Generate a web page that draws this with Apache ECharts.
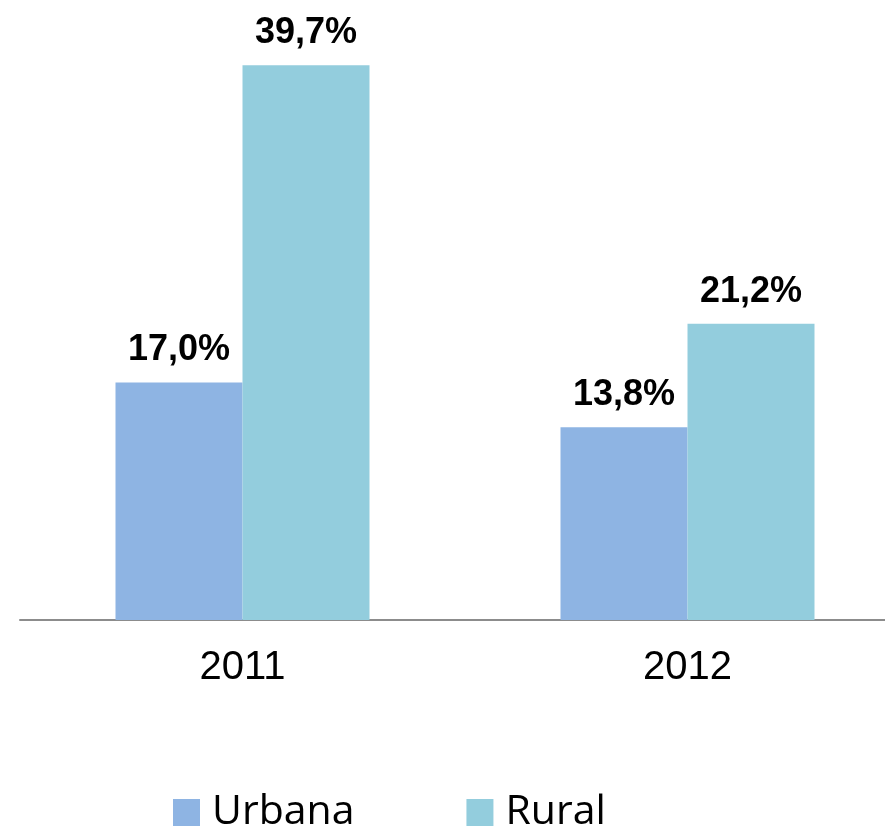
<!DOCTYPE HTML>
<html style="height: 100%">
<head>
    <meta charset="utf-8">
    <title>Urbana / Rural</title>
    <style>
        html, body { margin: 0; padding: 0; background: #fff; }
        #container { width: 885px; height: 827px; }
    </style>
</head>
<body>
    <div id="container"></div>
    <script src="https://cdn.jsdelivr.net/npm/echarts@6/dist/echarts.min.js"></script>
    <script>
        // 数据
        var years = ['2011', '2012'];
        var urbana = [17.0, 13.8];
        var rural = [39.7, 21.2];
        var seriesNames = ['Urbana', 'Rural'];

        var fmt = function (p) {
            return p.value.toFixed(1).replace('.', ',') + '%';
        };
        var valueLabel = {
            show: true,
            position: 'top',
            distance: 14,
            color: '#000',
            fontFamily: 'Liberation Sans, Arial, sans-serif',
            fontWeight: 'bold',
            fontSize: 36,
            formatter: fmt
        };

        var myChart = echarts.init(document.getElementById('container'));
        var option = {
            animation: false,
            backgroundColor: '#fff',
            // 类目宽度 445，网格超出右边界
            grid: { left: 20, right: -25, top: 61, bottom: 207, outerBoundsMode: 'none' },
            legend: {
                top: 787,
                left: 168,
                itemWidth: 27,
                itemHeight: 27,
                itemGap: 112,
                icon: 'rect',
                textStyle: { fontFamily: 'Open Sans', fontSize: 41, color: '#000', padding: [0, 0, 0, 7] },
                data: seriesNames
            },
            xAxis: {
                type: 'category',
                data: years,
                axisTick: { show: false },
                axisLine: { lineStyle: { color: '#8c8c8c', width: 2 } },
                axisLabel: {
                    margin: 28,
                    color: '#000',
                    fontFamily: 'Liberation Sans, Arial, sans-serif',
                    fontSize: 40
                }
            },
            yAxis: {
                type: 'value',
                min: 0,
                max: 40,
                show: false,
                splitLine: { show: false }
            },
            series: [{
                name: seriesNames[0],
                type: 'bar',
                data: urbana,
                barWidth: 127,
                barGap: '0%',
                itemStyle: { color: '#8eb4e3' },
                label: valueLabel
            }, {
                name: seriesNames[1],
                type: 'bar',
                data: rural,
                barWidth: 127,
                barGap: '0%',
                itemStyle: { color: '#93cddd' },
                label: valueLabel
            }]
        };
        myChart.setOption(option);
    </script>
</body>
</html>
